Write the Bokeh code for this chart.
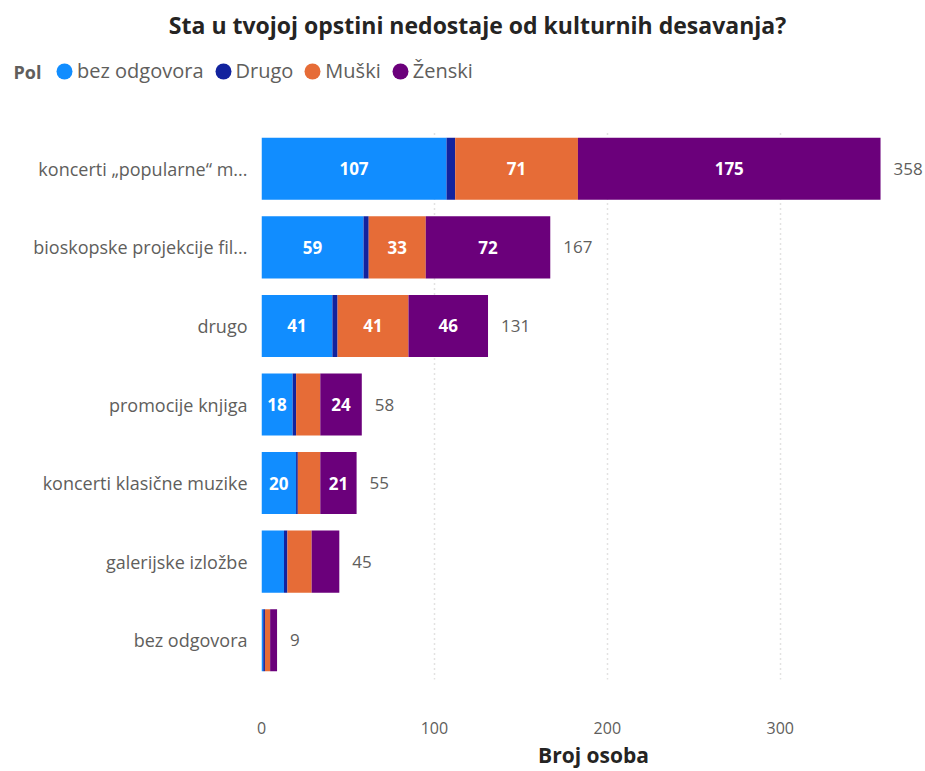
from bokeh.plotting import figure
from bokeh.models import (ColumnDataSource, FactorRange, Range1d, FixedTicker,
                          Legend, LegendItem, Label)
from bokeh.layouts import column, row
from bokeh.core.properties import value
from bokeh.embed import file_html
from bokeh.resources import INLINE

# ---- data ----
categories = [
    "koncerti \u201epopularne\u201c m...",
    "bioskopske projekcije fil...",
    "drugo",
    "promocije knjiga",
    "koncerti klasi\u010dne muzike",
    "galerijske izlo\u017ebe",
    "bez odgovora",
]
series_names = ["bez odgovora", "Drugo", "Mu\u0161ki", "\u017denski"]
bez_odgovora = [107, 59, 41, 18, 20, 13, 1]
drugo = [5, 3, 3, 2, 1, 2, 1]
muski = [71, 33, 41, 14, 13, 14, 3]
zenski = [175, 72, 46, 24, 21, 16, 4]
x_ticks = [0, 100, 200, 300]
title_text = "Sta u tvojoj opstini nedostaje od kulturnih desavanja?"
legend_title = "Pol"
x_title = "Broj osoba"

colors = ["#118DFF", "#12239E", "#E66C37", "#6B007B"]
keys = ["s0", "s1", "s2", "s3"]
series = [bez_odgovora, drugo, muski, zenski]

FONT = "Open Sans"
GRAY = "#605E5C"
DARK = "#252423"
W = 925
TOP_H = 129

# ---------- header (title + legend) ----------
head = figure(width=W, height=TOP_H, output_backend="svg", toolbar_location=None,
              x_range=Range1d(0, W), y_range=Range1d(0, TOP_H),
              min_border=0, x_axis_location=None, y_axis_location=None)
head.outline_line_color = None
head.grid.visible = False
head.add_layout(Label(x=477, y=TOP_H - 24, x_units="screen", y_units="screen",
                      text=title_text, text_font=FONT, text_font_style="bold",
                      text_font_size="23px", text_color=DARK,
                      text_align="center", text_baseline="middle"))
head.add_layout(Label(x=13, y=TOP_H - 71, x_units="screen", y_units="screen",
                      text=legend_title, text_font=FONT, text_font_style="bold",
                      text_font_size="18px", text_color=GRAY,
                      text_align="left", text_baseline="middle"))
items = []
for name, col in zip(series_names, colors):
    r = head.ellipse(x=[float("nan")], y=[float("nan")], width=16, height=16,
                     width_units="screen", height_units="screen",
                     fill_color=col, line_color=None)
    items.append(LegendItem(label=name, renderers=[r]))
legend = Legend(items=items, orientation="horizontal", location=(54, 45),
                glyph_width=20, glyph_height=20, label_standoff=3, spacing=9,
                padding=0, margin=0, border_line_color=None,
                background_fill_alpha=0,
                label_text_font=FONT, label_text_font_size="20px",
                label_text_color=GRAY)
head.add_layout(legend, "center")

# ---------- chart ----------
data = {"cat": categories}
for k, s in zip(keys, series):
    data[k] = s
src = ColumnDataSource(data)

H = 771 - TOP_H
p = figure(width=W, height=H, output_backend="svg", toolbar_location=None,
           y_range=FactorRange(*list(reversed(categories))),
           x_range=Range1d(0, 384),
           min_border_left=261, min_border_right=0,
           min_border_top=0, min_border_bottom=83)
p.outline_line_color = None

p.hbar_stack(keys, y="cat", height=0.79, color=colors, source=src, line_color=None)

lab_x, lab_y, lab_t = [], [], []
tot_x, tot_y, tot_t = [], [], []
for i, c in enumerate(categories):
    left = 0
    for j, s in enumerate(series):
        v = s[i]
        if j != 1 and v >= 18:
            lab_x.append(left + v / 2)
            lab_y.append(c)
            lab_t.append(str(v))
        left += v
    tot_x.append(left)
    tot_y.append(c)
    tot_t.append(str(left))

p.text(x=lab_x, y=lab_y, text=lab_t, text_color="white",
       text_font=value(FONT), text_font_size="17px", text_font_style="bold",
       text_align="center", text_baseline="middle")
p.text(x=tot_x, y=tot_y, text=tot_t, text_color=GRAY,
       text_font=value(FONT), text_font_size="17px",
       text_align="left", text_baseline="middle", x_offset=13)

p.xaxis.ticker = FixedTicker(ticks=x_ticks)
p.xaxis.axis_line_color = None
p.xaxis.major_tick_line_color = None
p.xaxis.minor_tick_line_color = None
p.xaxis.major_label_text_color = GRAY
p.xaxis.major_label_text_font = FONT
p.xaxis.major_label_text_font_size = "16px"
p.xaxis.major_label_standoff = 36
p.xaxis.axis_label = x_title
p.xaxis.axis_label_text_font = FONT
p.xaxis.axis_label_text_font_style = "bold"
p.xaxis.axis_label_text_font_size = "21px"
p.xaxis.axis_label_text_color = DARK
p.xaxis.axis_label_standoff = 4

p.yaxis.axis_line_color = None
p.yaxis.major_tick_line_color = None
p.yaxis.minor_tick_line_color = None
p.yaxis.major_label_text_color = GRAY
p.yaxis.major_label_text_font = FONT
p.yaxis.major_label_text_font_size = "18px"
p.yaxis.major_label_standoff = 8

p.ygrid.grid_line_color = None
p.xgrid.grid_line_color = "#C8C6C4"
p.xgrid.grid_line_dash = "1 4"
p.xgrid.grid_line_width = 1.5

layout = column(row(head), p, spacing=0)
open("out.html", "w").write(file_html(layout, INLINE))
